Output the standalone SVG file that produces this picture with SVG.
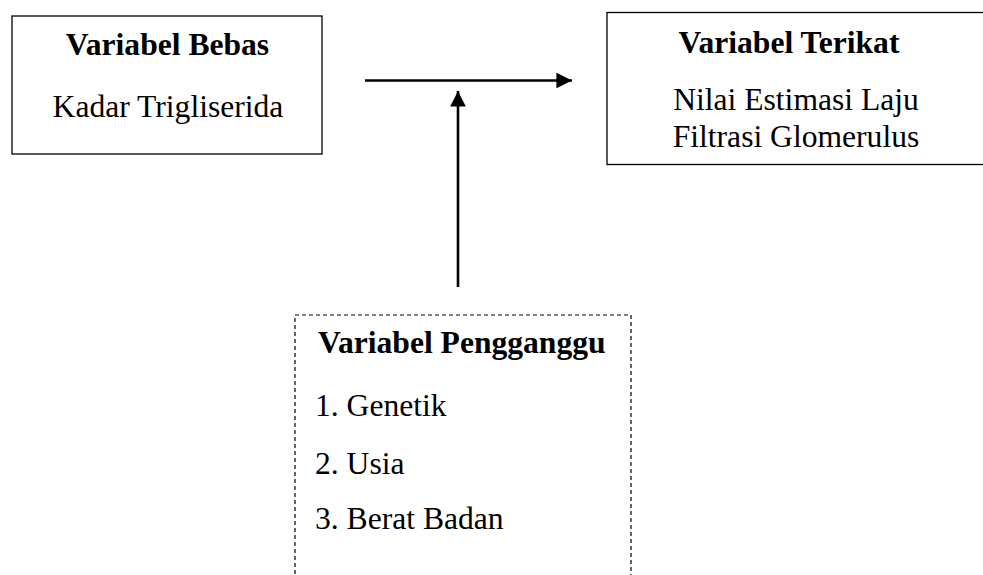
<svg xmlns="http://www.w3.org/2000/svg" width="983" height="575" viewBox="0 0 983 575">
<defs>
<style>
.box{fill:#fff;stroke:#000;stroke-width:1.3}
.dash{fill:none;stroke:#000;stroke-width:1.2;stroke-dasharray:4 3}
.t{font-family:"Liberation Serif","Times New Roman",serif;font-size:31.6px;fill:#000}
.b{font-weight:bold}
.c{text-anchor:middle}
.line{stroke:#000;stroke-width:2.6;fill:none}
</style>
<marker id="ah" viewBox="0 0 10 10" refX="10" refY="5" markerWidth="6" markerHeight="6" markerUnits="strokeWidth" orient="auto">
<path d="M0,0 L10,5 L0,10 Z" fill="#000"/>
</marker>
</defs>
<rect width="983" height="575" fill="#fff"/>
<g id="bebas">
<rect class="box" x="12" y="16" width="310" height="138"/>
<text class="t b c" x="167.5" y="55">Variabel Bebas</text>
<text class="t c" x="168" y="117">Kadar Trigliserida</text>
</g>
<g id="terikat">
<rect class="box" x="607" y="12.5" width="390" height="152"/>
<text class="t b c" x="789" y="53">Variabel Terikat</text>
<text class="t c" x="796" y="110">Nilai Estimasi Laju</text>
<text class="t c" x="796" y="147">Filtrasi Glomerulus</text>
</g>
<g id="pengganggu">
<rect class="dash" x="295" y="315" width="336" height="280"/>
<text class="t b" x="318" y="353">Variabel Pengganggu</text>
<text class="t" x="315" y="416">1. Genetik</text>
<text class="t" x="315" y="474">2. Usia</text>
<text class="t" x="315" y="529">3. Berat Badan</text>
</g>
<g id="connectors">
<line class="line" x1="365" y1="80.5" x2="572" y2="80.5" marker-end="url(#ah)"/>
<line class="line" x1="458" y1="287" x2="458" y2="91" marker-end="url(#ah)"/>
</g>
</svg>
